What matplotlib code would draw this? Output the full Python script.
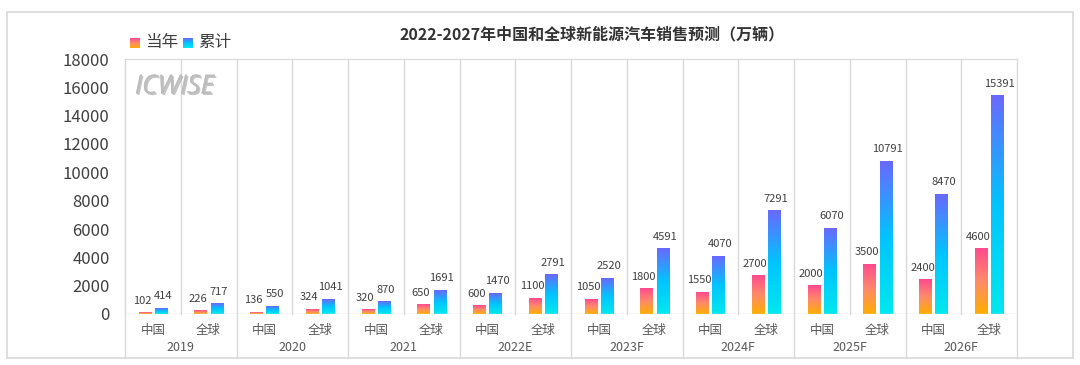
import numpy as np
import matplotlib
matplotlib.use("Agg")
import matplotlib.pyplot as plt
from matplotlib.colors import LinearSegmentedColormap
from matplotlib.patches import Rectangle
import matplotlib.transforms as mtransforms
import matplotlib.patheffects as pe

plt.rcParams['font.family'] = ['Noto Sans CJK SC', 'DejaVu Sans']

years = ["2019", "2020", "2021", "2022E", "2023F", "2024F", "2025F", "2026F"]
regions = ["中国", "全球"]
dangnian = [102, 226, 136, 324, 320, 650, 600, 1100, 1050, 1800, 1550, 2700, 2000, 3500, 2400, 4600]
leiji = [414, 717, 550, 1041, 870, 1691, 1470, 2791, 2520, 4591, 4070, 7291, 6070, 10791, 8470, 15391]
series_names = ["当年", "累计"]

cmap_dn = LinearSegmentedColormap.from_list("dn", ["#FFAE00", "#FF8A6A", "#FF4A8E"])
cmap_lj = LinearSegmentedColormap.from_list("lj", ["#00E8EE", "#00C4FF", "#6A68FF"])
grad = np.linspace(0, 1, 256).reshape(-1, 1)

fig = plt.figure(figsize=(10.8, 3.65), dpi=100)
fig.patch.set_facecolor("white")
# outer frame
fig.add_artist(Rectangle((7 / 1080, 1 - 358 / 365), 1066 / 1080, 346 / 365,
                         transform=fig.transFigure, fill=False, edgecolor="#D9D9D9", lw=1.2))

ax = fig.add_axes([125 / 1080, 1 - 314 / 365, 892 / 1080, 255 / 365])
n = len(dangnian)
x = np.arange(n)
w = 0.22
b1 = ax.bar(x - 0.145, dangnian, w, color="none")
b2 = ax.bar(x + 0.145, leiji, w, color="none")

for bars, cm, dx in ((b1, cmap_dn, -2), (b2, cmap_lj, 1.5)):
    for p in bars:
        x0, h = p.get_x(), p.get_height()
        ax.imshow(grad, extent=[x0, x0 + p.get_width(), 0, h], origin="lower",
                  aspect="auto", cmap=cm, zorder=2)
        ax.annotate(f"{int(h)}", (x0 + p.get_width() / 2, h), xytext=(dx, 5),
                    textcoords="offset points", ha="center", va="bottom",
                    fontsize=8, color="#404040")

ax.set_xlim(-0.5, n - 0.5)
ax.set_ylim(0, 18000)
ax.set_yticks(range(0, 18001, 2000))
ax.tick_params(axis="y", length=0, labelsize=12, labelcolor="#404040", pad=11)
ax.set_xticks(x)
ax.set_xticklabels(regions * len(years), fontsize=9, color="#595959")
ax.tick_params(axis="x", length=0, pad=7)
for s in ["right", "bottom"]:
    ax.spines[s].set_visible(False)
for s in ["top", "left"]:
    ax.spines[s].set_color("#D9D9D9")
ax.axhline(0, color="#D9D9D9", lw=1, zorder=3)

trans = mtransforms.blended_transform_factory(ax.transData, ax.transAxes)
for i in range(n + 1):
    b = i - 0.5
    bottom = -0.173 if i % 2 == 0 else 0
    ax.plot([b, b], [bottom, 1], color="#D9D9D9", lw=1, transform=trans, clip_on=False, zorder=1)
for g, yr in enumerate(years):
    ax.text(2 * g + 0.5, -0.131, yr, transform=trans, ha="center", va="center",
            fontsize=9, color="#595959")

fig.text(592 / 1080, 1 - 34 / 365, "2022-2027年中国和全球新能源汽车销售预测（万辆）",
         ha="center", va="center", fontsize=11.5, fontweight="bold", color="#333333")

# legend
for xs, cm, name in ((130, cmap_dn, series_names[0]), (183, cmap_lj, series_names[1])):
    lax = fig.add_axes([xs / 1080, 1 - 48 / 365, 10 / 1080, 10 / 365])
    lax.imshow(grad, origin="lower", aspect="auto", cmap=cm)
    lax.axis("off")
    fig.text((xs + 15) / 1080, 1 - 43 / 365, name, ha="left", va="center",
             fontsize=12, color="#404040")

ax.text(0.011, 0.89, "ICWISE", transform=ax.transAxes, ha="left", va="center",
        fontsize=19, fontstyle="italic", fontweight="normal", color="#BDBDBD",
        family="Open Sans",
        path_effects=[pe.withSimplePatchShadow(offset=(1, -1), shadow_rgbFace="#8C8C8C", alpha=0.5),
                      pe.Normal()])

fig.savefig("out.png", dpi=100)
